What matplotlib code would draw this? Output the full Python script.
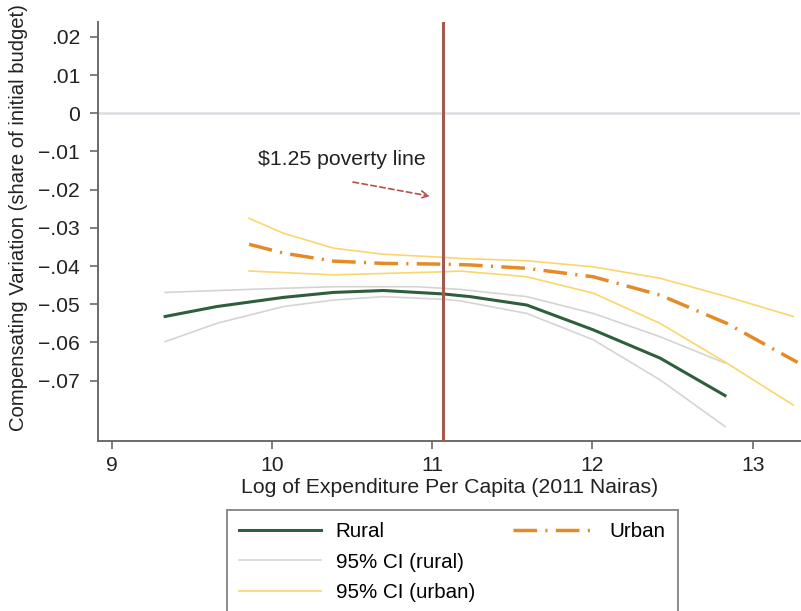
import matplotlib
matplotlib.use("Agg")
import matplotlib.pyplot as plt
from matplotlib import font_manager
from matplotlib.lines import Line2D

# values
rural_x = [9.333, 9.655, 10.071, 10.383, 10.695, 11.069, 11.236, 11.590, 12.005, 12.422, 12.827]
rural = [-0.0532, -0.0506, -0.0482, -0.0469, -0.0464, -0.0473, -0.0480, -0.0502, -0.0567, -0.0641, -0.0739]

rural_hi_x = [9.333, 9.863, 10.383, 10.903, 11.173, 11.590, 12.005, 12.422, 12.827]
rural_hi = [-0.0469, -0.0461, -0.0454, -0.0454, -0.0461, -0.0480, -0.0524, -0.0585, -0.0654]

rural_lo_x = [9.333, 9.655, 10.071, 10.383, 10.695, 11.069, 11.173, 11.590, 12.005, 12.422, 12.827]
rural_lo = [-0.0598, -0.0550, -0.0506, -0.0489, -0.0480, -0.0487, -0.0491, -0.0524, -0.0593, -0.0698, -0.0820]

urban_x = [9.857, 10.071, 10.383, 10.695, 11.069, 11.236, 11.590, 12.005, 12.422, 12.838, 13.253, 13.28]
urban = [-0.0343, -0.0366, -0.0387, -0.0393, -0.0395, -0.0397, -0.0406, -0.0428, -0.0476, -0.0550, -0.0646, -0.0652]

urban_hi_x = [9.857, 10.071, 10.383, 10.695, 11.069, 11.173, 11.590, 12.005, 12.422, 12.838, 13.253]
urban_hi = [-0.0275, -0.0314, -0.0353, -0.0369, -0.0377, -0.0380, -0.0386, -0.0402, -0.0432, -0.0480, -0.0532]

urban_lo_x = [9.857, 10.383, 11.069, 11.173, 11.590, 12.005, 12.422, 12.838, 13.253]
urban_lo = [-0.0413, -0.0423, -0.0415, -0.0413, -0.0428, -0.0471, -0.0550, -0.0654, -0.0764]

poverty_line = 11.07
x_ticks = [9, 10, 11, 12, 13]
y_ticks = [0.02, 0.01, 0, -0.01, -0.02, -0.03, -0.04, -0.05, -0.06, -0.07]
y_tick_labels = [".02", ".01", "0", "\u2212.01", "\u2212.02", "\u2212.03", "\u2212.04",
                 "\u2212.05", "\u2212.06", "\u2212.07"]

# narrow font if there is one, else regular at a smaller size
names = {f.name for f in font_manager.fontManager.ttflist}
if "Liberation Sans Narrow" in names:
    plt.rcParams["font.family"] = "Liberation Sans Narrow"
    fs = 18.5
else:
    plt.rcParams["font.family"] = "Liberation Sans"
    fs = 15.2
plt.rcParams["lines.scale_dashes"] = False

GREEN = "#2f5e3c"
GRAY_CI = "#d8d3d3"
YEL_CI = "#fbd66c"
ORANGE = "#e48a26"
BROWN = "#a25a4c"
AXC = "#6a6a6a"
URBAN_DASH = (17, 6, 1.5, 6)

fig = plt.figure(figsize=(8.01, 6.11), dpi=100)
ax = fig.add_axes([98.3 / 801, 1 - 441 / 611, (800 - 98.3) / 801, (441 - 21.7) / 611])

ax.axhline(0, color="#dcdce2", lw=1.8, zorder=1)

ax.plot(rural_hi_x, rural_hi, color=GRAY_CI, lw=1.2, zorder=2)
ax.plot(rural_lo_x, rural_lo, color=GRAY_CI, lw=1.2, zorder=2)
ax.plot(urban_hi_x, urban_hi, color=YEL_CI, lw=1.2, zorder=2)
ax.plot(urban_lo_x, urban_lo, color=YEL_CI, lw=1.2, zorder=2)
ax.plot(rural_x, rural, color=GREEN, lw=2.2, zorder=3)
ax.plot(urban_x, urban, color=ORANGE, lw=2.5, dashes=URBAN_DASH, dash_capstyle="butt", zorder=3)

ax.axvline(poverty_line, color=BROWN, lw=2.2, zorder=4)

ax.text(9.913, -0.0122, "$1.25 poverty line", fontsize=fs * 1.01, ha="left", va="center",
        color="#222222", parse_math=False)
ax.annotate("", xy=(10.986, -0.0217), xytext=(10.506, -0.0180),
            arrowprops=dict(arrowstyle="->", color="#b9504b", lw=1.2, linestyle=(0, (4, 2.5)),
                            shrinkA=0, shrinkB=0, mutation_scale=13))

ax.set_xlim(8.916, 13.295)
ax.set_ylim(-0.0858, 0.02398)
ax.set_xticks(x_ticks)
ax.set_xticklabels([str(t) for t in x_ticks])
ax.set_yticks(y_ticks)
ax.set_yticklabels(y_tick_labels)
ax.tick_params(axis="both", direction="out", length=6, width=1.2, color=AXC,
               labelsize=fs, labelcolor="#222222", pad=5)
ax.tick_params(axis="y", pad=7)

for s in ["top", "right"]:
    ax.spines[s].set_visible(False)
for s in ["left", "bottom"]:
    ax.spines[s].set_color(AXC)
    ax.spines[s].set_linewidth(1.4)

ax.set_xlabel("Log of Expenditure Per Capita (2011 Nairas)", fontsize=fs * 1.01, color="#222222", labelpad=2)
ax.set_ylabel("Compensating Variation (share of initial budget)", fontsize=fs * 0.96, color="#222222")
ax.yaxis.set_label_coords(-0.100, 0.532)

handles = [
    Line2D([], [], color=GREEN, lw=2.2),
    Line2D([], [], color=GRAY_CI, lw=1.2),
    Line2D([], [], color=YEL_CI, lw=1.2),
    Line2D([], [], color=ORANGE, lw=2.5, dashes=URBAN_DASH, dash_capstyle="butt"),
    Line2D([], [], color="none"),
    Line2D([], [], color="none"),
]
labels = ["Rural", "95% CI (rural)", "95% CI (urban)", "Urban", "", ""]
top = 1 - 510 / 611
leg = fig.legend(handles, labels, ncol=2, loc="upper left",
                 bbox_to_anchor=(227 / 801, top - 0.3, (678 - 227) / 801, 0.3),
                 mode="expand", fontsize=fs * 0.97, handlelength=4.0, handletextpad=0.7,
                 labelspacing=0.55, borderpad=0.6, fancybox=False, framealpha=1,
                 edgecolor="#8a8a8a", borderaxespad=0)
leg.get_frame().set_linewidth(1.4)

fig.savefig("out.png", dpi=100)
